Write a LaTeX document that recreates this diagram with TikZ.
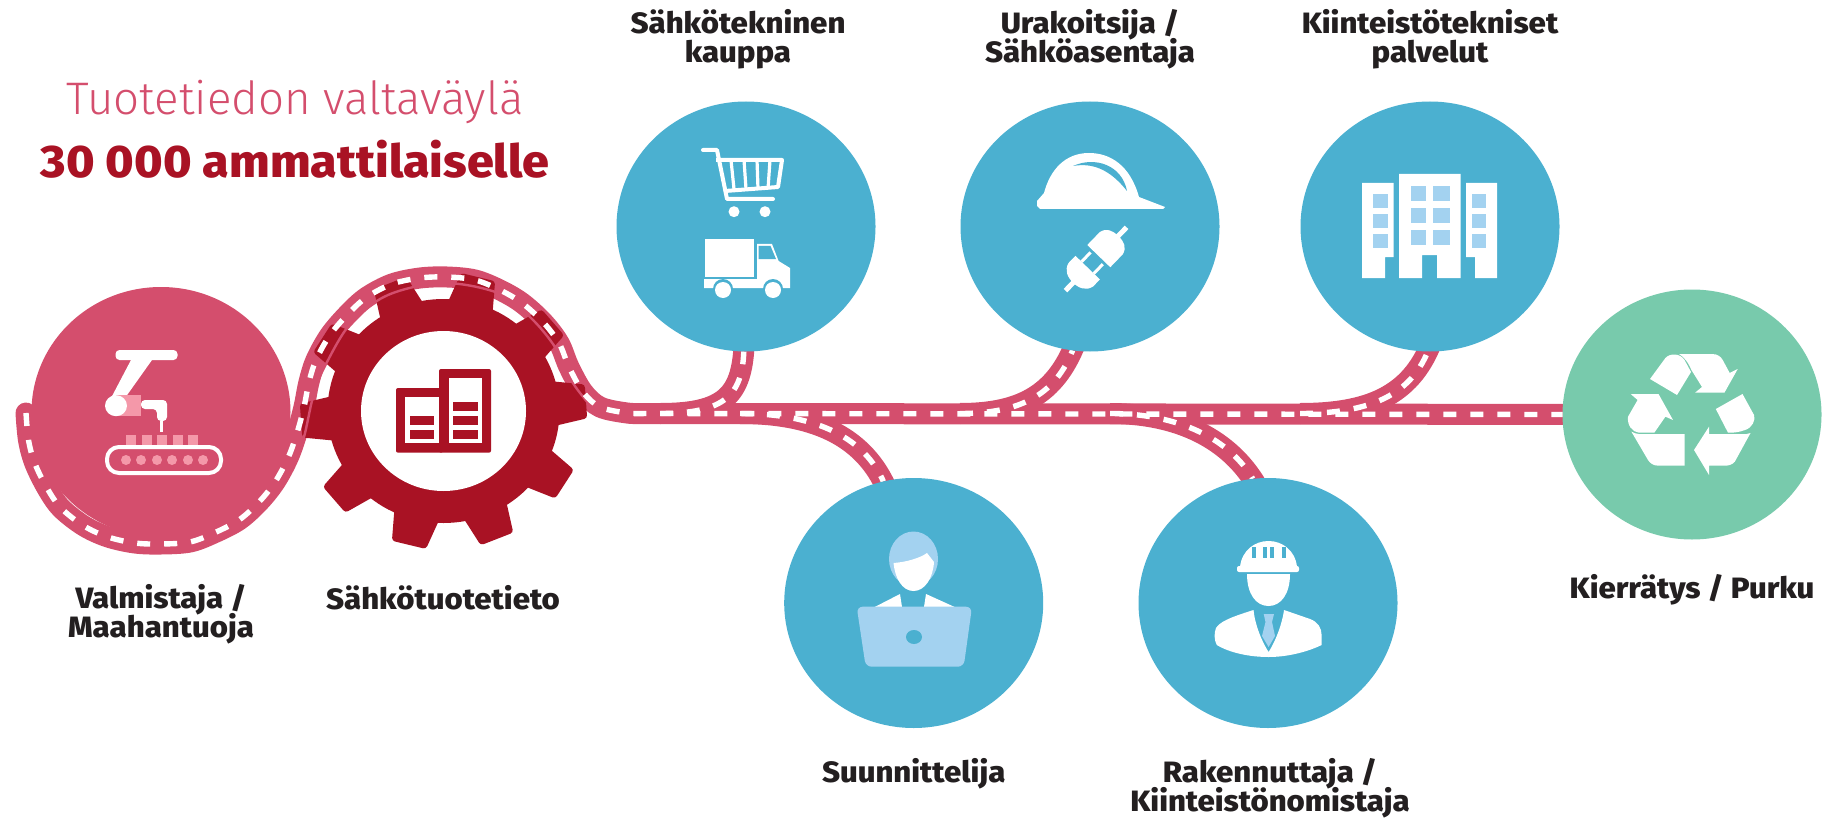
\documentclass[tikz,border=0pt]{standalone}
\usepackage{fontspec}
\setmainfont{Fira Sans}
\newfontfamily\thinfont{Fira Sans Light}
\newfontfamily\heavyfont[FakeStretch=1.06]{Fira Sans ExtraBold}
\usepackage{tikz}
\usetikzlibrary{positioning, shapes.geometric, backgrounds}
\definecolor{roadpink}{HTML}{D44E6D}
\definecolor{gearred}{HTML}{A91224}
\definecolor{stopblue}{HTML}{4BB0D0}
\definecolor{stopgreen}{HTML}{78CAAC}
\definecolor{paleblue}{HTML}{A3D2F0}
\definecolor{palepink}{HTML}{F498A9}
\definecolor{labeltext}{HTML}{231F20}
\normallineskiplimit=-20pt
\lineskiplimit=-20pt
\tikzstyle{stop} = [ellipse, minimum width=129.5pt, minimum height=125pt, inner sep=0pt, outer sep=0pt, fill=stopblue]
\tikzstyle{itemlabel} = [font=\heavyfont\fontsize{14.7}{14.5}\selectfont, text=labeltext, align=center, inner sep=0pt]
\tikzstyle{roadbase} = [draw=roadpink, line width=10.5pt, shorten >=-4pt]
\tikzstyle{roaddash} = [draw=white, line width=2.7pt, dash pattern=on 6.5pt off 7pt]
\tikzstyle{icon} = [fill=white]
\newcommand{\trunkroute}{plot[smooth, tension=.55] coordinates {(26,413) (28.5,440) (34.7,463) (47,488) (61,508) (84,526) (108,537) (135,543) (161,544) (190,542) (214,533) (239,520) (259,502) (275,482) (288,458) (297,433) (304,407) (309,382) (316,360) (330,335) (349,313) (367,297) (392,284) (420,278) (447,277) (475,280) (500,290) (522,303) (543,322) (559,343) (569,367) (583,392) (600,407) (627,413) (645,413.5)}}

\begin{document}
\begin{tikzpicture}[x=0.5pt, y=-0.5pt]
\useasboundingbox (0,0) rectangle (1824,818);

% Title
\node (title) at (295,102) {\thinfont\fontsize{22.8}{24}\selectfont\textcolor{roadpink}{Tuotetiedon valtaväylä}};
\node (subtitle) at (295,159) {\heavyfont\fontsize{22.8}{24}\selectfont\textcolor{gearred}{30 000 ammattilaiselle}};

% Nodes
\node (shop) [stop] at (746,226.5) {};
\node (contractor) [stop] at (1090,226.5) {};
\node (facility) [stop] at (1430,226.5) {};
\node (designer) [stop] at (913.7,603) {};
\node (builder) [stop] at (1268,603) {};
\node (recycle) [stop, fill=stopgreen] at (1692,414.5) {};

% Labels
\node (shoplabel) [itemlabel, above=16pt of shop, xshift=-4pt] {Sähkötekninen\\kauppa};
\node (contractorlabel) [itemlabel, above=16pt of contractor] {Urakoitsija /\\Sähköasentaja};
\node (facilitylabel) [itemlabel, above=16pt of facility] {Kiinteistötekniset\\palvelut};
\node (designerlabel) [itemlabel, below=15pt of designer] {Suunnittelija};
\node (builderlabel) [itemlabel, below=15pt of builder, xshift=1pt] {Rakennuttaja /\\Kiinteistönomistaja};
\node (recyclelabel) [itemlabel, below=17pt of recycle] {Kierrätys / Purku};

\coordinate (shopfork) at (660,413.5);
\coordinate (designerfork) at (740,413.5);
\coordinate (contractorfork) at (960,413.5);
\coordinate (builderfork) at (1110,413.5);
\coordinate (facilityfork) at (1300,413.5);

% Road under everything
\begin{pgfonlayer}{background}
\node (maker) [stop, fill=roadpink] at (161,412) {};
\draw [roadbase, shorten >=0pt, line cap=round] \trunkroute -- (recycle.center);
\foreach \fork/\stopname/\ca/\cb in {
  shopfork/shop.269/725/742,
  contractorfork/contractor.262/1020/1055,
  facilityfork/facility.269/1370/1410}{
  \draw [roadbase] (\fork) .. controls (\ca,413.5) and (\cb,395) .. (\stopname);
  \draw [roaddash] (\fork) .. controls (\ca,413.5) and (\cb,395) .. (\stopname);
}
\foreach \fork/\stopname/\ca/\cb in {
  designerfork/designer.104/820/865,
  builderfork/builder.97/1180/1230}{
  \draw [roadbase] (\fork) .. controls (\ca,413.5) and (\cb,440) .. (\stopname);
  \draw [roaddash] (\fork) .. controls (\ca,413.5) and (\cb,440) .. (\stopname);
}
\end{pgfonlayer}

% Gear
\node (gear) [ellipse, minimum width=116pt, minimum height=112pt, inner sep=0pt, fill=gearred] at (443.5,411) {};
\begin{scope}[shift={(gear.center)}, xscale=1.035]
\foreach \a in {-4,32,...,320}
  \fill [gearred, rounded corners=1.5pt] (\a-12:108) -- (\a-7:139) -- (\a+7:139) -- (\a+12:108) -- cycle;
\end{scope}
\node (gearhole) [ellipse, minimum width=82.5pt, minimum height=80pt, inner sep=0pt, fill=white] at (gear.center) {};
\draw [roadpink, line width=1.2pt] plot[smooth, tension=.55] coordinates {(297,450) (304,437) (314,393) (326.5,363) (351,323) (388,295) (443,283) (498,293) (530,317) (555,347) (571,380) (588,403) (600,417)};
\draw [roaddash] \trunkroute -- (recycle.west);

\node (makerlabel) [itemlabel, below=23.5pt of maker] {Valmistaja /\\Maahantuoja};
\node (gearlabel) [itemlabel] at (443,598) {Sähkötuotetieto};

% Robot
\fill [icon, rounded corners=2pt] (115.5,350) rectangle (177.5,360);
\fill [icon] (131,360) -- (152,360) -- (125,398) -- (110,400) -- cycle;
\fill [palepink] (116,395) rectangle (141,416);
\fill [icon] (116,405.7) ellipse [x radius=11, y radius=10.5];
\fill [icon, rounded corners=2pt] (141,400) -- (167,400) -- (167,421) -- (157,421) -- (157,409) -- (141,409) -- cycle;
\fill [icon] (160,421) rectangle (163,432);
\foreach \x in {126,141.6,157,172.6,188}
  \fill [palepink] (\x,435) rectangle ++(10,10);
\draw [white, line width=2pt, rounded corners=6pt] (107,447) rectangle (221,473);
\foreach \x in {126,141,157,172,188,203}
  \fill [palepink] (\x,460) circle [radius=5];

% Gear document icon
\fill [gearred, rounded corners=1pt] (396,388) rectangle (443,452.7);
\fill [gearred, rounded corners=1pt] (439,369) rectangle (491,452.7);
\fill [white] (405,397) rectangle (439,443);
\fill [white] (449,378) rectangle (481.6,443);
\foreach \y in {415.7,430}
  \fill [gearred] (410,\y) rectangle ++(23.5,9.3);
\foreach \y in {401.7,415.7,430}
  \fill [gearred] (453,\y) rectangle ++(24.5,9.3);

% Cart
\draw [white, line width=2pt, line join=round, line cap=round] (703,150) -- (717,150) -- (727,199) -- (773,199);
\draw [white, line width=2pt, line join=round] (716,160) -- (782,160) -- (778,187) -- (725,191);
\foreach \xa/\xb in {731/734,744/746,757/758,770/768}
  \draw [white, line width=1.6pt] (\xa,160) -- (\xb,189);
\fill [icon] (734,211.7) circle [radius=5.5];
\fill [icon] (765,211.7) circle [radius=5.5];

% Truck
\fill [icon] (705,239) rectangle (754,277);
\fill [icon] (757,244) -- (772,244) -- (778.6,261) -- (790,268) -- (790,288) -- (704,288) -- (704,279) -- (757,279) -- cycle;
\fill [stopblue] (758.5,246) -- (770.5,246) -- (776,259) -- (758.5,259) -- cycle;
\foreach \x in {723,773}{
  \fill [stopblue] (\x,289) circle [radius=10];
  \fill [icon] (\x,290) circle [radius=8];
}

% Hard hat and plug
\fill [icon] (1040,209) -- (1163,209) -- (1165,207) -- (1139,197) .. controls (1130,165) and (1110,153) .. (1089,153) .. controls (1065,153) and (1050,170) .. (1044,193) -- (1037,201) -- (1037,206) -- cycle;
\fill [stopblue] (1073,166) .. controls (1095,156) and (1122,165) .. (1127,191) .. controls (1112,172) and (1095,162) .. (1073,166) -- cycle;
\begin{scope}[shift={(1096,259)}, rotate=46]
\fill [icon] (30,-2.5) rectangle (44,2.5);
\fill [icon] (4,-16) -- (22,-16) .. controls (30,-14) and (32,-8) .. (32,0) .. controls (32,8) and (30,14) .. (22,16) -- (4,16) -- cycle;
\fill [icon] (-44,-2.5) rectangle (-30,2.5);
\fill [icon] (-12,-17) -- (-22,-17) .. controls (-30,-15) and (-33,-8) .. (-33,0) .. controls (-33,8) and (-30,15) .. (-22,17) -- (-12,17) -- cycle;
\fill [icon] (-12,-10) rectangle (1,-7);
\fill [icon] (-12,7) rectangle (1,10);
\end{scope}

% Buildings
\fill [icon] (1362,183) -- (1393.5,183) -- (1393.5,257) -- (1385,257) -- (1385,278) -- (1362,278) -- cycle;
\fill [icon] (1399,174) -- (1460.5,174) -- (1460.5,278) -- (1437,278) -- (1437,255) -- (1422,255) -- (1422,278) -- (1399,278) -- cycle;
\fill [icon] (1466,183) -- (1497,183) -- (1497,278) -- (1475,278) -- (1475,257) -- (1466,257) -- cycle;
\foreach \y in {194,214,234}{
  \fill [paleblue] (1372.7,\y) rectangle ++(15.5,14);
  \fill [paleblue] (1472,\y) rectangle ++(14,14);
}
\foreach \y in {186,208,230}{
  \fill [paleblue] (1410.5,\y) rectangle ++(15.5,15);
  \fill [paleblue] (1433,\y) rectangle ++(17,15);
}

% Designer
\fill [paleblue] (913.5,559) ellipse [x radius=24.5, y radius=27.5];
\fill [icon] (893.5,563) .. controls (907,562) and (920,558) .. (927,553) -- (934,562) .. controls (933,578) and (925,591) .. (913.5,591) .. controls (902,591) and (895,578) .. (893.5,563) -- cycle;
\fill [icon] (874.7,607) -- (900,594) -- (902,607) -- cycle;
\fill [icon] (954.7,607) -- (926,594) -- (924,607) -- cycle;
\fill [paleblue, rounded corners=3pt] (856.7,606.7) -- (972,606.7) -- (963.7,666.7) -- (865.7,666.7) -- cycle;
\fill [stopblue] (914,637) ellipse [x radius=8, y radius=7];

% Builder
\fill [icon] (1240,566.7) .. controls (1242,550) and (1255,541) .. (1268.5,541) .. controls (1282,541) and (1295,550) .. (1297,566.7) -- cycle;
\fill [icon, rounded corners=1pt] (1237,566) rectangle (1299,572);
\foreach \x in {1254,1265,1272,1284}
  \draw [stopblue, line width=1.6pt] (\x,547) -- (\x,558);
\fill [icon] (1247,574) -- (1290,574) .. controls (1290,594) and (1281,606) .. (1268.5,606) .. controls (1256,606) and (1247,594) .. (1247,574) -- cycle;
\fill [icon] (1253.5,610) .. controls (1255,625) and (1262,642) .. (1268.6,652) .. controls (1275,642) and (1282,625) .. (1284,610) -- (1310,619) .. controls (1318,622) and (1321.6,628) .. (1321.6,635) -- (1321.6,645) .. controls (1305,653) and (1285,657) .. (1268.6,657) .. controls (1250,657) and (1230,653) .. (1216.8,645) .. controls (1214,640) and (1214,633) .. (1216,628) .. controls (1220,622) and (1228,618) .. (1253.5,610) -- cycle;
\fill [paleblue] (1263.7,614) -- (1274,614) -- (1272,622) -- (1275,636) -- (1268.6,647) -- (1262,636) -- (1265.5,622) -- cycle;

% Recycling arrows
\fill [icon] (1650,379) -- (1665.4,358) .. controls (1670,353) and (1680,353) .. (1684.5,360) -- (1691,372) -- (1677,395) -- cycle;
\fill [icon] (1679,354) -- (1712,354) .. controls (1718,354) and (1721,357) .. (1722.7,360) -- (1729.7,373) -- (1737.7,369) -- (1724.4,392.7) -- (1695,392.7) -- (1702,387) -- (1691.4,370) .. controls (1688,362) and (1684,357) .. (1679,354) -- cycle;
\fill [icon] (1715.8,409) -- (1742.5,394) -- (1754,415) .. controls (1756,420) and (1752,428) .. (1745,430) .. controls (1740,432) and (1733,433) .. (1728,432.7) -- cycle;
\fill [icon] (1750.5,433) -- (1734.8,461.7) .. controls (1732,465) and (1728,465.7) .. (1724.4,465.7) -- (1709,465.7) -- (1709,475) -- (1694,450) -- (1709,426.7) -- (1709,434) -- (1731,434) .. controls (1738,434) and (1746,435) .. (1750.5,433) -- cycle;
\fill [icon] (1630.7,394) -- (1658.5,394) -- (1673,420) -- (1665.4,416.7) -- (1654.3,432.7) -- (1639,432.7) .. controls (1632,432) and (1627,425) .. (1628,416.7) -- (1637.6,400) -- cycle;
\fill [icon] (1631.4,431.7) .. controls (1634,433) and (1637,434) .. (1639,434) -- (1684.5,434) -- (1684.5,465.7) -- (1658.5,465.7) .. controls (1653,465.7) and (1650,463) .. (1648,460) -- cycle;

\end{tikzpicture}
\end{document}
